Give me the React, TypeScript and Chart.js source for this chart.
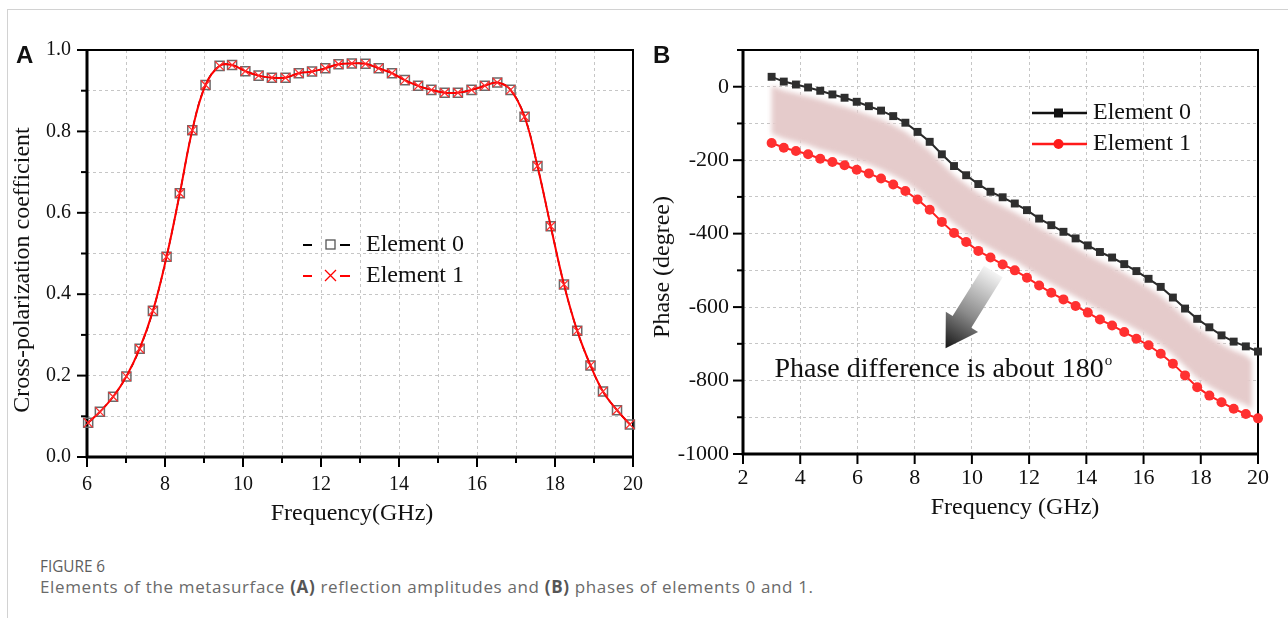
import React, { useEffect, useRef } from "react";
import { Chart, registerables } from "chart.js";

Chart.register(...registerables);

const SERIF = "'Liberation Serif', 'Times New Roman', Times, serif";
const SANS = "'Liberation Sans', Arial, sans-serif";

// ---------- Panel A: cross-polarization coefficient ----------
const freqA = [
  6.03, 6.33, 6.67, 7.01, 7.35, 7.69, 8.04, 8.38, 8.7, 9.04, 9.4, 9.72, 10.06, 10.4,
  10.74, 11.09, 11.43, 11.77, 12.11, 12.45, 12.79, 13.14, 13.48, 13.82, 14.15, 14.49,
  14.83, 15.17, 15.51, 15.86, 16.2, 16.52, 16.86, 17.22, 17.55, 17.89, 18.23, 18.57,
  18.91, 19.23, 19.59, 19.92,
];
const ampElement0 = [
  0.084, 0.111, 0.148, 0.198, 0.266, 0.359, 0.492, 0.648, 0.803, 0.914, 0.961, 0.963,
  0.948, 0.937, 0.932, 0.932, 0.943, 0.947, 0.955, 0.965, 0.967, 0.966, 0.955, 0.943,
  0.926, 0.912, 0.902, 0.895, 0.895, 0.902, 0.912, 0.92, 0.902, 0.836, 0.715, 0.567,
  0.424, 0.31, 0.225, 0.161, 0.115, 0.08,
];
const ampElement1 = [
  0.084, 0.111, 0.148, 0.198, 0.266, 0.359, 0.492, 0.648, 0.803, 0.914, 0.961, 0.963,
  0.948, 0.937, 0.932, 0.932, 0.943, 0.947, 0.955, 0.965, 0.967, 0.966, 0.955, 0.943,
  0.926, 0.912, 0.902, 0.895, 0.895, 0.902, 0.912, 0.92, 0.902, 0.836, 0.715, 0.567,
  0.424, 0.31, 0.225, 0.161, 0.115, 0.08,
];
const xTickLabelsA = [6, 8, 10, 12, 14, 16, 18, 20];
const yTickLabelsA = [0, 0.2, 0.4, 0.6, 0.8, 1.0];

// ---------- Panel B: phase ----------
const freqB = [
  3, 3.425, 3.85, 4.275, 4.7, 5.125, 5.55, 5.975, 6.4, 6.825, 7.25, 7.675, 8.1, 8.525,
  8.95, 9.375, 9.8, 10.225, 10.65, 11.075, 11.5, 11.925, 12.35, 12.775, 13.2, 13.625,
  14.05, 14.475, 14.9, 15.325, 15.75, 16.175, 16.6, 17.025, 17.45, 17.875, 18.3, 18.725,
  19.15, 19.575, 20,
];
const phaseElement0 = [
  27, 14, 6, -2, -11, -21, -30, -41, -53, -65, -80, -98, -123, -150, -184, -216, -241,
  -265, -286, -301, -318, -336, -359, -377, -395, -413, -432, -450, -465, -483, -502,
  -523, -545, -574, -604, -632, -655, -677, -694, -707, -721,
];
const phaseElement1 = [
  -153, -166, -175, -184, -196, -205, -214, -226, -236, -250, -266, -284, -307, -335,
  -368, -398, -423, -447, -465, -484, -500, -520, -541, -561, -579, -597, -615, -634,
  -650, -668, -686, -704, -727, -754, -786, -818, -841, -859, -877, -891, -903,
];
const xTickLabelsB = [2, 4, 6, 8, 10, 12, 14, 16, 18, 20];
const yTickLabelsB = [0, -200, -400, -600, -800, -1000];

const seriesNames = ["Element 0", "Element 1"];

const isIn = (v: number, list: number[]) => list.some((t) => Math.abs(t - v) < 1e-6);

function drawFrameAndTicks(chart: any, majorLen: number, minorLen: number, xMinor: boolean) {
  const { ctx, chartArea: a, scales } = chart;
  ctx.save();
  ctx.strokeStyle = "#000";
  ctx.lineWidth = 2;
  ctx.setLineDash([]);
  scales.x.ticks.forEach((t: any) => {
    const major = t.label !== "";
    if (!major && !xMinor) return;
    const x = scales.x.getPixelForValue(t.value);
    ctx.beginPath();
    ctx.moveTo(x, a.bottom);
    ctx.lineTo(x, a.bottom + (major ? majorLen : minorLen));
    ctx.stroke();
  });
  scales.y.ticks.forEach((t: any) => {
    const major = t.label !== "";
    const y = scales.y.getPixelForValue(t.value);
    ctx.beginPath();
    ctx.moveTo(a.left, y);
    ctx.lineTo(a.left - (major ? majorLen : minorLen), y);
    ctx.stroke();
  });
  ctx.lineWidth = 2;
  ctx.strokeRect(a.left, a.top, a.right - a.left, a.bottom - a.top);
  ctx.lineWidth = 3;
  ctx.beginPath();
  ctx.moveTo(a.left, a.top - 1);
  ctx.lineTo(a.left, a.bottom);
  ctx.lineTo(a.right + 1, a.bottom);
  ctx.stroke();
  ctx.restore();
}

function drawText(ctx: any, text: string, x: number, y: number, font: string, rotate = false, align = "center", baseline = "middle") {
  ctx.save();
  ctx.font = font;
  ctx.fillStyle = "#111";
  ctx.textAlign = align;
  ctx.textBaseline = baseline;
  ctx.translate(x, y);
  if (rotate) ctx.rotate(-Math.PI / 2);
  ctx.fillText(text, 0, 0);
  ctx.restore();
}

const pluginA = {
  id: "panelA",
  beforeDatasetsDraw(chart: any) {
    drawFrameAndTicks(chart, 10, 6, true);
  },
  afterDraw(chart: any) {
    const { ctx } = chart;
    drawText(ctx, "A", 16, 63, `bold 24px ${SANS}`, false, "left", "alphabetic");
    drawText(ctx, "Cross-polarization coefficient", 23, 270, `24px ${SERIF}`, true);
    drawText(ctx, "Frequency(GHz)", 352, 520, `24px ${SERIF}`, false, "center", "alphabetic");
    const rows = [
      { y: 245, color: "#000", marker: "rect", mcolor: "#555" },
      { y: 276, color: "#ff0000", marker: "cross", mcolor: "#ff0000" },
    ];
    rows.forEach((r, i) => {
      ctx.save();
      ctx.strokeStyle = r.color;
      ctx.lineWidth = 2;
      ctx.beginPath();
      ctx.moveTo(303, r.y);
      ctx.lineTo(312, r.y);
      ctx.moveTo(340, r.y);
      ctx.lineTo(350, r.y);
      ctx.stroke();
      ctx.strokeStyle = r.mcolor;
      ctx.lineWidth = 1.3;
      if (r.marker === "rect") {
        ctx.strokeRect(326, r.y - 5, 9, 9);
      } else {
        ctx.beginPath();
        ctx.moveTo(325, r.y - 6);
        ctx.lineTo(336, r.y + 5);
        ctx.moveTo(336, r.y - 6);
        ctx.lineTo(325, r.y + 5);
        ctx.stroke();
      }
      ctx.restore();
      drawText(ctx, seriesNames[i], 366, r.y, `24px ${SERIF}`, false, "left", "middle");
    });
  },
};

const pluginB = {
  id: "panelB",
  beforeDatasetsDraw(chart: any) {
    const { ctx } = chart;
    drawFrameAndTicks(chart, 10, 6, false);
    // shaded band between the two phase curves
    const m0 = chart.getDatasetMeta(0).data;
    const m1 = chart.getDatasetMeta(1).data;
    ctx.save();
    ctx.filter = "blur(2.5px)";
    ctx.fillStyle = "rgb(229,203,203)";
    ctx.beginPath();
    m0.forEach((p: any, i: number) => {
      const x = i === m0.length - 1 ? p.x - 6 : p.x;
      if (i === 0) ctx.moveTo(x, p.y + 9);
      else ctx.lineTo(x, p.y + 9);
    });
    for (let i = m1.length - 1; i >= 0; i--) {
      const p = m1[i];
      const x = i === m1.length - 1 ? p.x - 6 : p.x;
      ctx.lineTo(x, p.y - 9);
    }
    ctx.closePath();
    ctx.fill();
    ctx.restore();
  },
  afterDraw(chart: any) {
    const { ctx, scales } = chart;
    drawText(ctx, "B", 8, 63, `bold 24px ${SANS}`, false, "left", "alphabetic");
    drawText(ctx, "Phase (degree)", 18, 267, `24px ${SERIF}`, true);
    drawText(ctx, "Frequency (GHz)", 370, 514, `24px ${SERIF}`, false, "center", "alphabetic");

    // arrow
    const tx = scales.x.getPixelForValue(10.75), ty = scales.y.getPixelForValue(-503);
    const px = scales.x.getPixelForValue(9.08), py = scales.y.getPixelForValue(-712);
    const dx = px - tx, dy = py - ty;
    const len = Math.hypot(dx, dy);
    const ux = dx / len, uy = dy / len;
    const nx = -uy, ny = ux;
    const hx = px - ux * 31, hy = py - uy * 31;
    const g = ctx.createLinearGradient(tx, ty, px, py);
    g.addColorStop(0, "#f4f4f4");
    g.addColorStop(0.55, "#8a8a8a");
    g.addColorStop(1, "#151515");
    ctx.save();
    ctx.fillStyle = g;
    ctx.beginPath();
    ctx.moveTo(tx + nx * 11, ty + ny * 11);
    ctx.lineTo(hx + nx * 11, hy + ny * 11);
    ctx.lineTo(hx + nx * 19, hy + ny * 19);
    ctx.lineTo(px, py);
    ctx.lineTo(hx - nx * 19, hy - ny * 19);
    ctx.lineTo(hx - nx * 11, hy - ny * 11);
    ctx.lineTo(tx - nx * 11, ty - ny * 11);
    ctx.closePath();
    ctx.fill();
    ctx.restore();

    // annotation text
    const ax = scales.x.getPixelForValue(3.1), ay = scales.y.getPixelForValue(-791);
    ctx.save();
    ctx.font = `28px ${SERIF}`;
    const main = "Phase difference is about 180";
    const w = ctx.measureText(main).width;
    ctx.restore();
    drawText(ctx, main, ax, ay, `28px ${SERIF}`, false, "left", "alphabetic");
    drawText(ctx, "o", ax + w + 1, ay - 12, `15px ${SERIF}`, false, "left", "alphabetic");

    // legend
    const rows = [
      { y: 113, color: "#111", marker: "rect" },
      { y: 144, color: "#ff1a1a", marker: "circle" },
    ];
    rows.forEach((r, i) => {
      ctx.save();
      ctx.strokeStyle = r.color;
      ctx.fillStyle = r.color;
      ctx.lineWidth = 2.5;
      ctx.beginPath();
      ctx.moveTo(387, r.y);
      ctx.lineTo(442, r.y);
      ctx.stroke();
      if (r.marker === "rect") ctx.fillRect(409, r.y - 4.5, 9, 9);
      else {
        ctx.beginPath();
        ctx.arc(413.5, r.y, 5, 0, Math.PI * 2);
        ctx.fill();
      }
      ctx.restore();
      drawText(ctx, seriesNames[i], 448, r.y, `24px ${SERIF}`, false, "left", "middle");
    });
  },
};

const gridCommon = { color: "#c6c6c6", lineWidth: 1, drawTicks: false };

function makeConfigA(): any {
  return {
    type: "line",
    data: {
      datasets: [
        {
          label: seriesNames[0],
          data: freqA.map((f, i) => ({ x: f, y: ampElement0[i] })),
          order: 2,
          borderColor: "#000",
          borderWidth: 1.5,
          borderDash: [6, 4],
          tension: 0.4,
          pointStyle: "rect",
          pointRadius: 6.4,
          pointBorderColor: "#6a6a6a",
          pointBackgroundColor: "rgba(0,0,0,0)",
          pointBorderWidth: 1.5,
          clip: false,
        },
        {
          label: seriesNames[1],
          data: freqA.map((f, i) => ({ x: f, y: ampElement1[i] })),
          order: 1,
          borderColor: "#ff0000",
          borderWidth: 2,
          tension: 0.4,
          pointStyle: "crossRot",
          pointRadius: 6.4,
          pointBorderColor: "#ff2a2a",
          pointBackgroundColor: "rgba(0,0,0,0)",
          pointBorderWidth: 1.2,
          clip: false,
        },
      ],
    },
    options: {
      responsive: false,
      animation: false,
      devicePixelRatio: 1,
      layout: { padding: { left: 0, top: 50, right: 12, bottom: 0 } },
      plugins: { legend: { display: false }, tooltip: { enabled: false } },
      scales: {
        x: {
          type: "linear",
          min: 6,
          max: 20,
          afterFit: (s: any) => { s.height = 88; },
          ticks: {
            stepSize: 1,
            autoSkip: false,
            maxRotation: 0,
            padding: 16,
            color: "#111",
            font: { family: SERIF, size: 20 },
            callback: (v: number) => (isIn(v, xTickLabelsA) ? String(v) : ""),
          },
          grid: gridCommon,
          border: { display: false, dash: [3, 3] },
        },
        y: {
          type: "linear",
          min: 0,
          max: 1,
          afterFit: (s: any) => { s.width = 87; },
          ticks: {
            stepSize: 0.1,
            autoSkip: false,
            padding: 16,
            color: "#111",
            font: { family: SERIF, size: 20 },
            callback: (v: number) => (isIn(v, yTickLabelsA) ? v.toFixed(1) : ""),
          },
          grid: gridCommon,
          border: { display: false, dash: [3, 3] },
        },
      },
    },
    plugins: [pluginA],
  };
}

function makeConfigB(): any {
  return {
    type: "line",
    data: {
      datasets: [
        {
          label: seriesNames[0],
          data: freqB.map((f, i) => ({ x: f, y: phaseElement0[i] })),
          borderColor: "#2a2a2a",
          borderWidth: 2,
          tension: 0,
          pointStyle: "rect",
          pointRadius: 5.6,
          pointBorderWidth: 0,
          pointBackgroundColor: "#2e2e2e",
          clip: false,
        },
        {
          label: seriesNames[1],
          data: freqB.map((f, i) => ({ x: f, y: phaseElement1[i] })),
          borderColor: "#ff2020",
          borderWidth: 2,
          tension: 0,
          pointStyle: "circle",
          pointRadius: 5,
          pointBorderWidth: 0,
          pointBackgroundColor: "#ff3030",
          clip: false,
        },
      ],
    },
    options: {
      responsive: false,
      animation: false,
      devicePixelRatio: 1,
      layout: { padding: { left: 0, top: 50, right: 30, bottom: 0 } },
      plugins: { legend: { display: false }, tooltip: { enabled: false } },
      scales: {
        x: {
          type: "linear",
          min: 2,
          max: 20,
          afterFit: (s: any) => { s.height = 91; },
          ticks: {
            stepSize: 2,
            autoSkip: false,
            maxRotation: 0,
            padding: 11,
            color: "#111",
            font: { family: SERIF, size: 22 },
            callback: (v: number) => (isIn(v, xTickLabelsB) ? String(v) : ""),
          },
          grid: gridCommon,
          border: { display: false, dash: [3, 3] },
        },
        y: {
          type: "linear",
          min: -1000,
          max: 100,
          afterFit: (s: any) => { s.width = 98; },
          ticks: {
            stepSize: 100,
            autoSkip: false,
            padding: 14,
            color: "#111",
            font: { family: SERIF, size: 22 },
            callback: (v: number) => (isIn(v, yTickLabelsB) ? String(v) : ""),
          },
          grid: gridCommon,
          border: { display: false, dash: [3, 3] },
        },
      },
    },
    plugins: [pluginB],
  };
}

export default function App() {
  const refA = useRef<HTMLCanvasElement>(null);
  const refB = useRef<HTMLCanvasElement>(null);

  useEffect(() => {
    const a = new Chart(refA.current as HTMLCanvasElement, makeConfigA());
    const b = new Chart(refB.current as HTMLCanvasElement, makeConfigB());
    return () => {
      a.destroy();
      b.destroy();
    };
  }, []);

  const capFont = "'Open Sans', 'Noto Sans', sans-serif";
  return (
    <div style={{ position: "absolute", left: 0, top: 0, width: 1288, height: 618, background: "#fff", overflow: "hidden" }}>
      <div style={{ position: "absolute", left: 7, top: 9, right: 0, bottom: 0, borderLeft: "1px solid #d2d2d2", borderTop: "1px solid #d2d2d2" }} />
      <canvas ref={refA} width={659} height={545} style={{ position: "absolute", left: 0, top: 0, width: 659, height: 545 }} />
      <canvas ref={refB} width={643} height={545} style={{ position: "absolute", left: 645, top: 0, width: 643, height: 545 }} />
      <div style={{ position: "absolute", left: 40, top: 555, fontFamily: capFont, fontSize: 17, color: "#5e5e5e", lineHeight: "22px", whiteSpace: "nowrap", transform: "scaleX(0.9)", transformOrigin: "left center" }}>
        FIGURE 6
      </div>
      <div style={{ position: "absolute", left: 40, top: 577, fontFamily: capFont, fontSize: 17, letterSpacing: "0.65px", color: "#6a6a6a", lineHeight: "20px", whiteSpace: "nowrap" }}>
        Elements of the metasurface <b style={{ color: "#555" }}>(A)</b> reflection amplitudes and <b style={{ color: "#555" }}>(B)</b> phases of elements 0 and 1.
      </div>
    </div>
  );
}
